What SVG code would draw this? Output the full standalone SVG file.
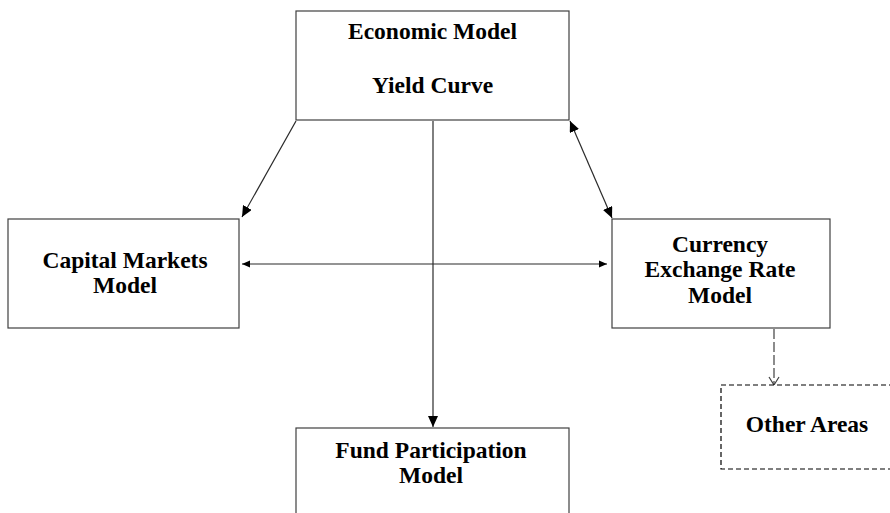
<svg xmlns="http://www.w3.org/2000/svg" width="890" height="513" viewBox="0 0 890 513">
  <defs>
    <style>
      .box { fill: #ffffff; stroke: #404040; stroke-width: 1.2; }
      .dbox { fill: #ffffff; stroke: #000000; stroke-width: 1.2; stroke-dasharray: 5 3; }
      .lbl { font-family: "Liberation Serif", "Times New Roman", serif; font-weight: bold; font-size: 23.5px; fill: #000000; text-anchor: middle; }
      .link { fill: none; stroke: #2a2a2a; stroke-width: 1.2; }
      .dlink { fill: none; stroke: #404040; stroke-width: 1.2; stroke-dasharray: 10 3; }
    </style>
    <marker id="arrow" markerUnits="userSpaceOnUse" markerWidth="12" markerHeight="10" refX="11" refY="5" orient="auto-start-reverse">
      <path d="M0,0 L11,5 L0,10 Z" fill="#000000"/>
    </marker>
    <marker id="arrowSmall" markerUnits="userSpaceOnUse" markerWidth="9" markerHeight="8" refX="8" refY="4" orient="auto-start-reverse">
      <path d="M0,0.5 L8,4 L0,7.5 Z" fill="#000000"/>
    </marker>
    <marker id="open" markerUnits="userSpaceOnUse" markerWidth="10" markerHeight="12" refX="9" refY="6" orient="auto">
      <path d="M1,1 L9,6 L1,11" fill="none" stroke="#404040" stroke-width="1.2"/>
    </marker>
  </defs>

  <g id="connectors">
    <line class="link" x1="296" y1="121" x2="242" y2="217" marker-end="url(#arrow)"/>
    <line class="link" x1="570" y1="121" x2="612" y2="218" marker-start="url(#arrow)" marker-end="url(#arrow)"/>
    <line class="link" x1="433" y1="121" x2="433" y2="427" marker-end="url(#arrow)"/>
    <line class="link" x1="242" y1="264" x2="607" y2="264" marker-start="url(#arrowSmall)" marker-end="url(#arrowSmall)"/>
    <line class="dlink" x1="774" y1="329" x2="774" y2="385" marker-end="url(#open)"/>
  </g>

  <g id="economic-model">
    <rect class="box" x="296" y="11" width="273" height="109"/>
    <text class="lbl" x="432.5" y="39">Economic Model</text>
    <text class="lbl" x="432.5" y="93">Yield Curve</text>
  </g>

  <g id="capital-markets-model">
    <rect class="box" x="8" y="219" width="231" height="109"/>
    <text class="lbl" x="125" y="268">Capital Markets</text>
    <text class="lbl" x="125" y="293">Model</text>
  </g>

  <g id="currency-exchange-rate-model">
    <rect class="box" x="612" y="219" width="218" height="109"/>
    <text class="lbl" x="720" y="252">Currency</text>
    <text class="lbl" x="720" y="277">Exchange Rate</text>
    <text class="lbl" x="720" y="303">Model</text>
  </g>

  <g id="fund-participation-model">
    <rect class="box" x="296" y="428" width="273" height="100"/>
    <text class="lbl" x="431" y="458">Fund Participation</text>
    <text class="lbl" x="431" y="483">Model</text>
  </g>

  <g id="other-areas">
    <rect class="dbox" x="721" y="385" width="180" height="84"/>
    <text class="lbl" x="807" y="432">Other Areas</text>
  </g>
</svg>
